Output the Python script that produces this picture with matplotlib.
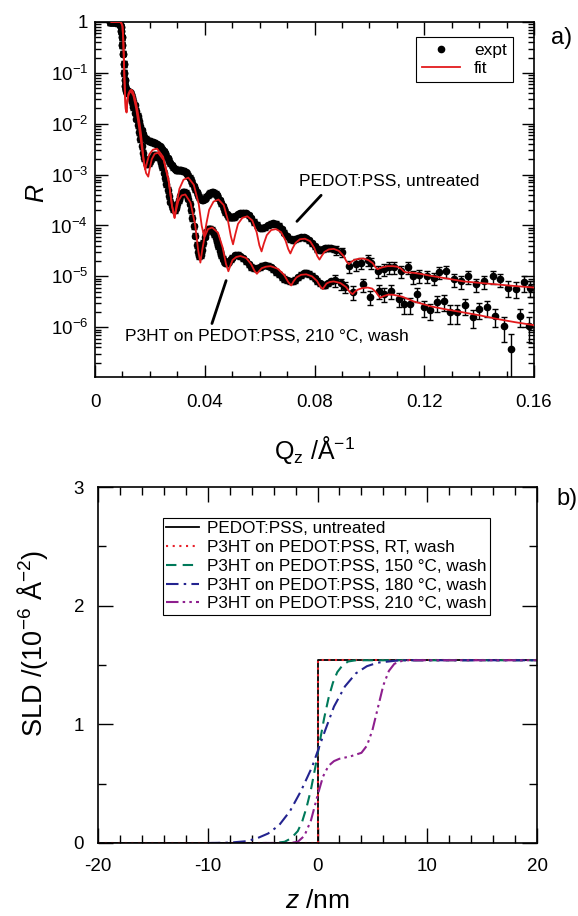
import numpy as np
import matplotlib
matplotlib.use('Agg')
import matplotlib.pyplot as plt
from matplotlib.ticker import MultipleLocator, FixedLocator, FixedFormatter, LogLocator, NullFormatter
from matplotlib.lines import Line2D

plt.rcParams['font.family'] = ['Liberation Sans', 'DejaVu Sans']
plt.rcParams['mathtext.fontset'] = 'custom'
plt.rcParams['mathtext.rm'] = 'Liberation Sans'
plt.rcParams['mathtext.it'] = 'Liberation Sans:italic'
plt.rcParams['mathtext.bf'] = 'Liberation Sans:bold'
plt.rcParams['axes.unicode_minus'] = False

# ---------------- reflectivity data (log10 R) ----------------
# PEDOT:PSS, untreated -- dense low-Q part
untr_q = [0.0055, 0.0060, 0.0065, 0.0070, 0.0075, 0.0080, 0.0085, 0.0090, 0.0093, 0.0096,
          0.0098, 0.0100, 0.0102, 0.0104, 0.0106, 0.0108, 0.0110, 0.0112, 0.0114, 0.0118,
          0.0122, 0.0126, 0.0130, 0.0135, 0.0140, 0.0145,
          0.0150, 0.0155, 0.0160, 0.0165, 0.0170, 0.0175, 0.0180, 0.0185, 0.0190, 0.0195,
          0.0200, 0.0205, 0.0210, 0.0215, 0.0220, 0.0225, 0.0230, 0.0235, 0.0240, 0.0245,
          0.0250, 0.0255, 0.0260, 0.0265, 0.0270, 0.0275, 0.0280, 0.0285, 0.0290, 0.0295,
          0.0300, 0.0305, 0.0310, 0.0315, 0.0320, 0.0325, 0.0330, 0.0335, 0.0340, 0.0345,
          0.0350, 0.0355, 0.0360, 0.0365, 0.0370, 0.0375, 0.0380, 0.0385, 0.0390, 0.0395,
          0.0400, 0.0405, 0.0410, 0.0415, 0.0420, 0.0425, 0.0430, 0.0435, 0.0440, 0.0445,
          0.0450, 0.0455, 0.0460, 0.0465, 0.0470, 0.0475, 0.0480, 0.0485, 0.0490, 0.0495,
          0.0500, 0.0505, 0.0510, 0.0520, 0.0530, 0.0540, 0.0550, 0.0560, 0.0570, 0.0580,
          0.0590, 0.0600, 0.0610, 0.0620, 0.0630, 0.0640, 0.0650, 0.0660, 0.0670, 0.0680,
          0.0690, 0.0700, 0.0710, 0.0720, 0.0730, 0.0740, 0.0750, 0.0760, 0.0770, 0.0780,
          0.0790, 0.0800, 0.0810, 0.0820, 0.0830, 0.0840, 0.0850, 0.0860, 0.0870]
untr_logR = [0.00, 0.00, 0.00, 0.00, 0.00, -0.01, -0.02, -0.05, -0.09, -0.18,
             -0.30, -0.45, -0.62, -0.82, -1.00, -1.15, -1.26, -1.32, -1.34, -1.35,
             -1.36, -1.38, -1.41, -1.47, -1.55, -1.64,
             -1.74, -1.84, -1.94, -2.04, -2.13, -2.21, -2.27, -2.30, -2.32, -2.33,
             -2.34, -2.35, -2.36, -2.37, -2.38, -2.40, -2.42, -2.44, -2.47, -2.50,
             -2.54, -2.58, -2.63, -2.68, -2.73, -2.78, -2.82, -2.86, -2.88, -2.90,
             -2.91, -2.91, -2.91, -2.91, -2.92, -2.93, -2.95, -2.98, -3.02, -3.06,
             -3.10, -3.16, -3.23, -3.29, -3.35, -3.40, -3.44, -3.47, -3.49, -3.49,
             -3.47, -3.44, -3.41, -3.38, -3.36, -3.35, -3.35, -3.36, -3.38, -3.41,
             -3.45, -3.50, -3.56, -3.62, -3.68, -3.73, -3.78, -3.81, -3.83, -3.84,
             -3.84, -3.83, -3.82, -3.78, -3.76, -3.75, -3.76, -3.80, -3.86, -3.93,
             -3.99, -4.04, -4.05, -4.03, -4.00, -3.97, -3.96, -3.97, -4.01, -4.07,
             -4.14, -4.21, -4.26, -4.28, -4.27, -4.25, -4.23, -4.23, -4.25, -4.29,
             -4.35, -4.41, -4.46, -4.48, -4.47, -4.45, -4.44, -4.45, -4.47]
# PEDOT:PSS, untreated -- sparse high-Q part with relative errors
untr_q_hi = [0.0880, 0.0900, 0.0925, 0.0950, 0.0968, 0.0994, 0.1005, 0.1030, 0.1052, 0.1070,
             0.1089, 0.1114, 0.1140, 0.1160, 0.1180, 0.1210, 0.1235, 0.1253, 0.1280, 0.1310,
             0.1333, 0.1359, 0.1388, 0.1417, 0.1450, 0.1476, 0.1505, 0.1534, 0.1563, 0.1585]
untr_logR_hi = [-4.49, -4.53, -4.80, -4.76, -4.73, -4.67, -4.73, -4.90, -4.86, -4.82,
                -4.82, -4.90, -4.82, -5.00, -4.98, -5.00, -5.04, -4.92, -4.90, -5.06,
                -5.10, -5.00, -5.16, -5.10, -5.00, -5.06, -5.22, -5.24, -5.12, -5.22]
untr_err_hi = [0.20, 0.20, 0.25, 0.25, 0.25, 0.25, 0.25, 0.25, 0.25, 0.25,
               0.25, 0.25, 0.25, 0.30, 0.30, 0.25, 0.25, 0.25, 0.25, 0.30,
               0.30, 0.30, 0.30, 0.30, 0.30, 0.30, 0.35, 0.35, 0.35, 0.35]

# P3HT on PEDOT:PSS, 210 C, wash -- dense low-Q part
p3ht_q = [0.0055, 0.0060, 0.0065, 0.0070, 0.0075, 0.0080, 0.0085, 0.0090, 0.0093, 0.0096,
          0.0098, 0.0100, 0.0102, 0.0104, 0.0106, 0.0108, 0.0110, 0.0112, 0.0114, 0.0118,
          0.0122, 0.0126, 0.0130, 0.0135, 0.0140, 0.0145,
          0.0150, 0.0155, 0.0160, 0.0165, 0.0170, 0.0175, 0.0180, 0.0185, 0.0190, 0.0195,
          0.0200, 0.0205, 0.0210, 0.0215, 0.0220, 0.0225, 0.0230, 0.0235, 0.0240, 0.0245,
          0.0250, 0.0255, 0.0260, 0.0265, 0.0270, 0.0275, 0.0280, 0.0285, 0.0290, 0.0295,
          0.0300, 0.0305, 0.0310, 0.0315, 0.0320, 0.0325, 0.0330, 0.0335, 0.0340, 0.0345,
          0.0350, 0.0355, 0.0360, 0.0365, 0.0370, 0.0375, 0.0380, 0.0385, 0.0390, 0.0395,
          0.0400, 0.0405, 0.0410, 0.0415, 0.0420, 0.0425, 0.0430, 0.0435, 0.0440, 0.0445,
          0.0450, 0.0455, 0.0460, 0.0465, 0.0470, 0.0475, 0.0480, 0.0485, 0.0490, 0.0495,
          0.0500, 0.0510, 0.0520, 0.0530, 0.0540, 0.0550, 0.0560, 0.0570, 0.0580, 0.0590,
          0.0600, 0.0610, 0.0620, 0.0630, 0.0640, 0.0650, 0.0660, 0.0670, 0.0680, 0.0690,
          0.0700, 0.0710, 0.0720, 0.0730, 0.0740, 0.0750, 0.0760, 0.0770, 0.0780, 0.0790,
          0.0800, 0.0810, 0.0820, 0.0830, 0.0840, 0.0850, 0.0860]
p3ht_logR = [0.00, 0.00, 0.00, 0.00, 0.00, -0.01, -0.02, -0.05, -0.09, -0.18,
             -0.30, -0.45, -0.62, -0.82, -1.00, -1.15, -1.26, -1.33, -1.36, -1.38,
             -1.40, -1.44, -1.49, -1.57, -1.67, -1.78,
             -1.90, -2.03, -2.16, -2.30, -2.44, -2.57, -2.68, -2.76, -2.79, -2.78,
             -2.74, -2.69, -2.65, -2.62, -2.61, -2.62, -2.65, -2.70, -2.77, -2.86,
             -2.96, -3.07, -3.18, -3.30, -3.42, -3.53, -3.62, -3.68, -3.69, -3.65,
             -3.58, -3.50, -3.43, -3.38, -3.35, -3.34, -3.36, -3.40, -3.47, -3.57,
             -3.70, -3.85, -4.02, -4.20, -4.38, -4.52, -4.60, -4.58, -4.48, -4.34,
             -4.22, -4.13, -4.08, -4.06, -4.06, -4.08, -4.12, -4.17, -4.24, -4.32,
             -4.41, -4.50, -4.58, -4.65, -4.70, -4.73, -4.74, -4.73, -4.70, -4.66,
             -4.63, -4.59, -4.58, -4.60, -4.64, -4.70, -4.76, -4.81, -4.84, -4.84,
             -4.82, -4.79, -4.78, -4.79, -4.82, -4.86, -4.91, -4.96, -5.01, -5.05,
             -5.08, -5.10, -5.10, -5.07, -5.02, -4.97, -4.94, -4.93, -4.95, -4.99,
             -5.04, -5.09, -5.14, -5.17, -5.17, -5.14, -5.10]
p3ht_q_hi = [0.0875, 0.0895, 0.0910, 0.0939, 0.0975, 0.1001, 0.1034, 0.1052, 0.1078, 0.1107,
             0.1125, 0.1147, 0.1173, 0.1198, 0.1220, 0.1246, 0.1271, 0.1293, 0.1319, 0.1348,
             0.1377, 0.1400, 0.1428, 0.1458, 0.1490, 0.1516, 0.1550, 0.1582]
p3ht_logR_hi = [-5.08, -5.14, -5.20, -5.31, -5.16, -5.41, -5.29, -5.35, -5.29, -5.45,
                -5.55, -5.55, -5.35, -5.61, -5.67, -5.51, -5.49, -5.71, -5.71, -5.57,
                -5.80, -5.65, -5.61, -5.78, -5.98, -6.43, -5.78, -5.98]
p3ht_err_hi = [0.25, 0.25, 0.25, 0.30, 0.30, 0.30, 0.30, 0.30, 0.30, 0.30,
               0.35, 0.35, 0.30, 0.35, 0.35, 0.35, 0.35, 0.40, 0.40, 0.35,
               0.40, 0.35, 0.35, 0.40, 0.50, 0.95, 0.40, 0.50]
dense_err = 0.12  # relative error of the dense low-Q points

# ---------------- fitted curves (log10 R) ----------------
fit_untr_q = [0.0060, 0.0090, 0.0095, 0.0100, 0.0103, 0.0106, 0.0109, 0.0112, 0.0115, 0.0118,
              0.0122, 0.0127, 0.0132, 0.0137, 0.0143, 0.0149, 0.0155, 0.0161, 0.0167, 0.0172,
              0.0176, 0.0180, 0.0183, 0.01895, 0.0198, 0.0211, 0.0226,
              0.0248, 0.0268, 0.0280, 0.0290, 0.02975, 0.03075, 0.03225, 0.0340,
              0.0360, 0.0378, 0.0389, 0.0398, 0.0406, 0.0416, 0.0432, 0.0450,
              0.0469, 0.0484, 0.0495, 0.0503, 0.0511, 0.0521, 0.0537, 0.0555,
              0.0573, 0.0589, 0.0599, 0.0607, 0.0615, 0.0626, 0.0642, 0.0660,
              0.0678, 0.0694, 0.0704, 0.0712, 0.0720, 0.0731, 0.0747, 0.0765,
              0.0784, 0.0799, 0.0810, 0.0818, 0.0826, 0.0836, 0.0852, 0.0870,
              0.0889, 0.0906, 0.0917, 0.0925, 0.0933, 0.0944, 0.0960, 0.0978,
              0.0996, 0.1012, 0.1022, 0.1030, 0.1038, 0.1049, 0.1066, 0.1085,
              0.1101, 0.1116, 0.1125, 0.1132, 0.1160, 0.1185, 0.1224, 0.1280,
              0.1344, 0.1405, 0.1468, 0.1530, 0.1600]
fit_untr_logR = [0.00, 0.00, -0.01, -0.08, -0.35, -0.90, -1.40, -1.72, -1.78, -1.55,
                 -1.41, -1.35, -1.33, -1.36, -1.45, -1.58, -1.75, -1.95, -2.18, -2.42,
                 -2.65, -2.84, -2.90, -2.76, -2.60, -2.51, -2.49,
                 -2.65, -3.10, -3.60, -3.85, -3.57, -3.28, -3.10, -3.06,
                 -3.20, -3.58, -4.01, -4.22, -3.96, -3.69, -3.53, -3.49,
                 -3.60, -3.89, -4.21, -4.37, -4.18, -3.97, -3.85, -3.82,
                 -3.90, -4.13, -4.39, -4.51, -4.36, -4.19, -4.09, -4.07,
                 -4.13, -4.29, -4.46, -4.55, -4.45, -4.34, -4.27, -4.26,
                 -4.31, -4.44, -4.60, -4.67, -4.60, -4.52, -4.47, -4.46,
                 -4.50, -4.60, -4.71, -4.76, -4.72, -4.68, -4.655, -4.65,
                 -4.68, -4.74, -4.82, -4.86, -4.84, -4.82, -4.80, -4.80,
                 -4.81, -4.85, -4.90, -4.92, -4.93, -4.95, -4.99, -5.04,
                 -5.10, -5.13, -5.16, -5.19, -5.22]

fit_p3ht_q = [0.0060, 0.0090, 0.0095, 0.0100, 0.0103, 0.0106, 0.0109, 0.0112, 0.0115, 0.0118,
              0.0122, 0.0127, 0.0132, 0.0140, 0.0150, 0.0160, 0.0170, 0.0178, 0.0186, 0.0194,
              0.01994, 0.02066, 0.02174, 0.0230,
              0.0251, 0.0269, 0.0281, 0.0290, 0.02959, 0.03037, 0.03154, 0.0329,
              0.0348, 0.0365, 0.0376, 0.0384, 0.03905, 0.03991, 0.0412, 0.0427,
              0.0448, 0.0465, 0.0477, 0.0486, 0.04926, 0.0501, 0.05146, 0.0530,
              0.0551, 0.0569, 0.0581, 0.0590, 0.05975, 0.06075, 0.06225, 0.0640,
              0.0666, 0.0689, 0.0704, 0.0715, 0.07233, 0.07343, 0.07508, 0.0770,
              0.0791, 0.0809, 0.0821, 0.0830, 0.0836, 0.0844, 0.0856, 0.0870,
              0.0894, 0.0915, 0.0929, 0.0939, 0.09473, 0.09583, 0.09748, 0.0994,
              0.1010, 0.1024, 0.1033, 0.1040, 0.10468, 0.10558, 0.10692, 0.1085,
              0.1120, 0.1160, 0.1224, 0.1280, 0.1344, 0.1405, 0.1468, 0.1530, 0.1600]
fit_p3ht_logR = [0.00, 0.00, -0.01, -0.08, -0.35, -0.90, -1.40, -1.70, -1.76, -1.55,
                 -1.43, -1.38, -1.37, -1.45, -1.70, -2.05, -2.45, -2.75, -2.97, -3.04,
                 -2.88, -2.70, -2.59, -2.57,
                 -2.72, -3.15, -3.62, -3.85, -3.69, -3.52, -3.41, -3.39,
                 -3.55, -3.99, -4.49, -4.73, -4.49, -4.23, -4.07, -4.04,
                 -4.14, -4.43, -4.75, -4.90, -4.80, -4.68, -4.62, -4.60,
                 -4.64, -4.76, -4.89, -4.95, -4.90, -4.84, -4.81, -4.80,
                 -4.85, -4.97, -5.11, -5.18, -5.10, -5.02, -4.97, -4.96,
                 -5.00, -5.09, -5.20, -5.25, -5.20, -5.14, -5.11, -5.10,
                 -5.13, -5.21, -5.31, -5.35, -5.30, -5.26, -5.23, -5.22,
                 -5.24, -5.31, -5.38, -5.42, -5.40, -5.38, -5.36, -5.36,
                 -5.40, -5.49, -5.59, -5.65, -5.71, -5.77, -5.84, -5.90, -5.96]

# ---------------- SLD profiles ----------------
sld_labels = ['PEDOT:PSS, untreated',
              'P3HT on PEDOT:PSS, RT, wash',
              'P3HT on PEDOT:PSS, 150 °C, wash',
              'P3HT on PEDOT:PSS, 180 °C, wash',
              'P3HT on PEDOT:PSS, 210 °C, wash']
z_untr = [-20, 0, 0, 20]
sld_untr = [0, 0, 1.54, 1.54]
z_rt = [-20, 0, 0, 20]
sld_rt = [0, 0, 1.54, 1.54]
z_150 = [-5.0, -4.0, -3.0, -2.4, -1.8, -1.4, -1.0, -0.6, -0.2, 0.2, 0.6, 1.0, 1.4, 1.8, 2.3, 2.8, 3.5, 20]
sld_150 = [0, 0, 0.01, 0.04, 0.10, 0.18, 0.30, 0.45, 0.64, 0.85, 1.05, 1.22, 1.35, 1.44, 1.50, 1.53, 1.54, 1.54]
z_180 = [-10, -8, -6.5, -5.5, -4.5, -3.5, -2.5, -1.5, -0.5, 0.5, 1.5, 2.5, 3.5, 4.5, 5.5, 6.5, 7.5, 20]
sld_180 = [0, 0.003, 0.015, 0.04, 0.08, 0.15, 0.27, 0.44, 0.64, 0.90, 1.15, 1.32, 1.43, 1.49, 1.52, 1.53, 1.54, 1.54]
z_210 = [-5.0, -2.5, -1.8, -1.2, -0.6, 0.0, 0.5, 1.0, 1.5, 2.0, 3.0, 4.0, 4.5, 5.0, 5.5, 6.0, 6.5, 7.0, 7.5, 8.0, 20]
sld_210 = [0, 0, 0.01, 0.06, 0.19, 0.40, 0.56, 0.65, 0.69, 0.71, 0.73, 0.76, 0.82, 0.95, 1.14, 1.33, 1.45, 1.51, 1.53, 1.54, 1.54]

fit_red = '#e31a1c'


def style_ticks(ax, major_len=9, minor_len=4.5):
    ax.tick_params(which='both', direction='in', top=True, right=True, width=1.0, labelsize=13.5)
    ax.tick_params(which='major', length=major_len)
    ax.tick_params(which='minor', length=minor_len)
    for s in ax.spines.values():
        s.set_linewidth(1.2)


def draw_data(ax, q, logR, err):
    R = 10 ** np.asarray(logR)
    ax.errorbar(q, R, yerr=R * np.asarray(err), fmt='o', ms=4.5, color='k', ecolor='k',
                elinewidth=1.0, capsize=2.5, capthick=1.0, zorder=2)


fig = plt.figure(figsize=(5.78, 9.16), dpi=100)

# ---------------- a) reflectivity ----------------
ax1 = fig.add_axes([0.1644, 0.5884, 0.7595, 0.3876])
ax1.set_yscale('log')

draw_data(ax1, untr_q, untr_logR, dense_err)
draw_data(ax1, untr_q_hi, untr_logR_hi, untr_err_hi)
draw_data(ax1, p3ht_q, p3ht_logR, dense_err)
draw_data(ax1, p3ht_q_hi, p3ht_logR_hi, p3ht_err_hi)

ax1.plot(fit_untr_q, 10 ** np.asarray(fit_untr_logR), color=fit_red, lw=1.3, zorder=3)
ax1.plot(fit_p3ht_q, 10 ** np.asarray(fit_p3ht_logR), color=fit_red, lw=1.3, zorder=3)

ax1.set_xlim(0, 0.16)
ax1.set_ylim(1.05e-7, 1.0)
ax1.set_xticks([0, 0.04, 0.08, 0.12, 0.16])
ax1.set_xticklabels(['0', '0.04', '0.08', '0.12', '0.16'])
ax1.xaxis.set_minor_locator(MultipleLocator(0.01))
ydec = [1e-6, 1e-5, 1e-4, 1e-3, 1e-2, 1e-1, 1]
ax1.yaxis.set_major_locator(FixedLocator(ydec))
ax1.yaxis.set_major_formatter(FixedFormatter([r'$10^{-6}$', r'$10^{-5}$', r'$10^{-4}$',
                                              r'$10^{-3}$', r'$10^{-2}$', r'$10^{-1}$', '1']))
ax1.yaxis.set_minor_locator(LogLocator(base=10, subs=np.arange(2, 10), numticks=20))
ax1.yaxis.set_minor_formatter(NullFormatter())
style_ticks(ax1)
ax1.tick_params(axis='x', which='major', pad=12)
ax1.tick_params(axis='y', which='major', pad=5)

ax1.set_xlabel(r'Q$_{\rm z}$ /Å$^{-1}$', fontsize=18)
ax1.xaxis.set_label_coords(0.501, -0.16)
ax1.set_ylabel(r'$R$', fontsize=18, va='center')
ax1.yaxis.set_label_coords(-0.132, 0.518)

leg1 = ax1.legend(handles=[Line2D([], [], marker='o', ms=4.5, ls='none', color='k'),
                           Line2D([], [], color=fit_red, lw=1.3)],
                  labels=['expt', 'fit'], loc='upper right', bbox_to_anchor=(0.952, 0.958),
                  fontsize=12.5, frameon=True, fancybox=False, edgecolor='k', framealpha=1,
                  borderaxespad=0, handlelength=2.2, labelspacing=0.15, borderpad=0.35,
                  markerfirst=True)
leg1.get_frame().set_linewidth(0.8)

ax1.annotate('', xy=(0.0729, 1.1e-4), xytext=(0.0831, 4.3e-4),
             arrowprops=dict(arrowstyle='-', lw=2.0, color='k'))
ax1.text(0.0745, 7.3e-4, 'PEDOT:PSS, untreated', fontsize=12.5, va='center', ha='left')
ax1.annotate('', xy=(0.0481, 9.3e-6), xytext=(0.0423, 1.05e-6),
             arrowprops=dict(arrowstyle='-', lw=2.0, color='k'))
ax1.text(0.0109, 6.7e-7, 'P3HT on PEDOT:PSS, 210 °C, wash', fontsize=12.5, va='center', ha='left')

fig.text(0.972, 0.958, 'a)', fontsize=17, ha='center', va='center')

# ---------------- b) SLD profiles ----------------
ax2 = fig.add_axes([0.1696, 0.0797, 0.7595, 0.3886])
ax2.plot(z_untr, sld_untr, color='k', lw=1.3, ls='-', label=sld_labels[0])
ax2.plot(z_rt, sld_rt, color='#e8202a', lw=1.5, ls=(0, (1, 2.2)), label=sld_labels[1])
ax2.plot(z_150, sld_150, color='#00795a', lw=1.5, ls=(0, (5, 3)), label=sld_labels[2])
ax2.plot(z_180, sld_180, color='#23238f', lw=1.5, ls=(0, (6, 2.5, 1.2, 2.5)), label=sld_labels[3])
ax2.plot(z_210, sld_210, color='#8e1f8e', lw=1.5, ls=(0, (6, 2, 1.2, 2, 1.2, 2)), label=sld_labels[4])

ax2.set_xlim(-20, 20)
ax2.set_ylim(0, 3)
ax2.xaxis.set_major_locator(MultipleLocator(10))
ax2.xaxis.set_minor_locator(MultipleLocator(2))
ax2.yaxis.set_major_locator(MultipleLocator(1))
ax2.yaxis.set_minor_locator(MultipleLocator(0.5))
style_ticks(ax2, major_len=11, minor_len=6)
ax2.tick_params(axis='x', which='major', pad=11)
ax2.tick_params(axis='y', which='major', pad=10)

ax2.set_xlabel(r'$z$ /nm', fontsize=19, labelpad=10)
ax2.set_ylabel(r'SLD /(10$^{-6}$ Å$^{-2}$)', fontsize=19.5, va='center')
ax2.yaxis.set_label_coords(-0.150, 0.562)

leg2 = ax2.legend(loc='upper left', bbox_to_anchor=(0.148, 0.913), fontsize=12.3,
                  frameon=True, fancybox=False, edgecolor='k', framealpha=1,
                  borderaxespad=0, handlelength=1.9, labelspacing=0.22, borderpad=0.2,
                  handletextpad=0.5)
leg2.get_frame().set_linewidth(0.8)

fig.text(0.962, 0.455, 'b)', fontsize=17, ha='left', va='center')

fig.savefig('out.png', dpi=100)
